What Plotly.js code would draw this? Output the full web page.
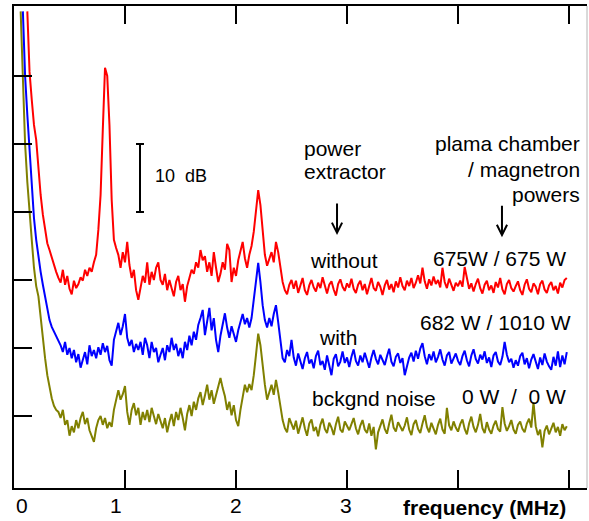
<!DOCTYPE html>
<html>
<head>
<meta charset="utf-8">
<script src="https://cdn.plot.ly/plotly-3.0.1.min.js"></script>
<style>html,body{margin:0;padding:0;background:#fff;}#chart{width:589px;height:521px;}</style>
</head>
<body>
<div id="chart"></div>
<script>
// Frequency grid (MHz): each trace starts at its own first frequency, step 0.02 MHz
const freqStep = 0.02;
const redStart = 0.12;
const blueStart = 0.08;
const oliveStart = 0.06;

// Relative level (dB) – "without" power extractor, 675 W / 675 W
const redDb = [
  69.5, 60.6, 56.5, 52.8, 50.6, 46.2, 42.5, 39.6, 37.1, 35.4, 34.4, 33.2, 32.2, 31.2,
  30.3, 29.6, 31.5, 29.3, 30.6, 28.7, 27.9, 29.9, 28.8, 29.4, 30.4, 29.9, 31.5, 30.6, 31.8, 31.2, 32.6, 33.7,
  37.4, 42.5, 52.1, 61.2, 60.0, 52.8, 41.8, 35.9, 34.7,
  33.7, 31.8, 34.1, 32.6, 35.6, 32.2, 30.3, 31.5, 28.5, 27.1, 28.8, 30.6, 29.6, 32.6, 29.3, 31.2, 30.0, 31.8, 32.6, 30.0,
  29.3, 30.9, 28.5, 30.0, 28.8, 27.6, 29.7, 30.6, 28.5, 29.4,
  26.8, 29.1, 30.3, 31.5, 30.9, 32.6, 31.8, 34.4, 32.9, 33.5,
  31.2, 32.6, 30.6, 34.1, 31.8, 29.7, 30.9, 32.6, 31.5, 35.3,
  34.4, 29.7, 31.8, 30.6, 32.9, 34.1, 35.6, 33.2, 31.8, 33.7,
  35.0, 37.1, 40.0, 43.2, 41.0, 37.1, 33.7, 32.1, 33.2, 34.1,
  32.6, 35.6, 34.1, 31.5, 29.7, 28.5, 27.9, 29.3, 30.0,
  28.7, 29.9, 28.1, 29.4, 30.3, 28.5, 27.8, 29.2, 30.0, 28.9, 28.3, 29.6, 28.8, 30.4, 29.1, 28.0, 29.3, 29.8, 28.6, 27.7, 29.4, 30.1, 29.0, 28.4, 29.5,
  28.9, 30.2, 28.7, 28.1, 29.3, 29.9, 28.5, 29.4, 27.9, 29.1, 30.3, 28.8, 28.4, 29.7, 29.0, 27.8, 29.2, 30.0, 28.6, 29.4, 28.2, 29.8, 28.9, 30.4, 29.1,
  28.5, 29.9, 29.1, 30.3, 28.8, 29.6, 30.7, 29.5, 31.8, 29.8, 28.7, 30.1, 29.2, 30.5, 29.4, 30.0, 28.9, 31.8, 29.7, 28.8, 30.2, 29.3, 28.4, 29.6, 29.1,
  29.9, 29.0, 31.9, 30.1, 28.7, 29.5, 28.3, 29.4, 30.2, 28.8, 28.0, 29.3, 29.9, 28.5, 29.2, 28.1, 29.7, 28.9, 30.3, 28.6, 27.9, 29.4, 30.0, 28.8, 28.3,
  29.1, 29.8, 28.5, 27.8, 29.3, 30.1, 28.7, 28.2, 29.5, 29.0, 27.9, 29.4, 29.9, 28.6, 28.1, 29.2, 29.7, 28.5, 29.1, 28.0, 29.6, 28.9, 30.0, 30.3
];

// "with" power extractor, 682 W / 1010 W
const blueDb = [
  69.5, 60.0, 54.3, 49.4, 44.0, 39.1, 35.9, 33.2, 31.2, 29.3, 27.4, 25.6, 24.1, 23.1, 22.4, 21.6, 20.9,
  20.4, 19.4, 20.9, 19.0, 20.0, 18.5, 19.7, 17.9, 19.1, 17.1, 18.2, 19.4, 17.6, 20.4, 18.8,
  19.7, 18.5, 20.1, 19.0, 20.7, 19.4, 20.3, 18.2, 17.4, 21.2, 22.6, 23.7, 21.9, 23.2, 25.0,
  21.5, 20.3, 21.2, 19.4, 20.6, 19.7, 20.9, 19.0, 21.5, 20.4, 18.5, 20.9, 19.4, 20.0, 17.9,
  19.0, 20.0, 18.2, 20.4, 19.4, 21.5, 19.7, 20.6, 18.8, 20.0,
  18.5, 20.9, 19.7, 21.8, 20.4, 22.4, 21.2, 23.4, 24.4, 25.6,
  21.9, 23.8, 25.9, 22.6, 24.4, 21.2, 19.4, 21.8, 23.4, 25.1,
  23.0, 21.5, 23.2, 21.9, 20.9, 22.6, 23.8, 25.0, 23.5, 24.4,
  23.0, 24.4, 27.1, 30.0, 32.5, 29.7, 26.3, 24.1, 23.0, 24.4,
  23.2, 25.0, 26.3, 23.8, 21.2, 18.5, 17.9, 19.7, 18.8, 21.2,
  18.6, 17.4, 19.2, 18.0, 16.9, 18.5, 19.4, 17.7, 18.3, 17.0, 18.8, 19.6, 17.5, 18.1, 16.8, 18.9, 17.6, 16.0, 18.4, 19.1, 17.3, 18.0, 19.5, 17.8, 18.6,
  17.2, 18.7, 19.8, 18.1, 17.4, 18.9, 17.9, 19.3, 18.2, 17.1, 18.6, 19.7, 18.4, 17.6, 19.0, 18.3, 17.5, 18.8, 19.9, 18.0, 17.3, 18.7, 19.2, 17.8, 18.5,
  16.0, 17.4, 18.6, 19.3, 18.0, 19.6, 18.4, 19.9, 20.7, 18.8, 17.6, 19.1, 18.2, 19.5, 17.9, 18.7, 19.8, 18.3, 17.4, 18.9, 19.4, 17.7, 18.5, 19.2, 18.1,
  17.5, 18.8, 19.6, 18.2, 17.3, 18.9, 19.8, 18.4, 17.7, 19.0, 18.3, 19.5, 17.8, 18.6, 17.2, 18.9, 19.4, 18.0, 17.5, 18.7, 20.9, 19.0, 17.9, 18.4, 17.1,
  18.2, 17.4, 18.8, 19.3, 17.6, 18.5, 17.0, 18.3, 19.1, 17.8, 16.9, 18.6, 17.5, 19.2, 18.0, 17.3, 16.8, 18.7, 17.4, 19.5, 17.2, 18.9, 17.6, 19.4
];

// background noise, 0 W / 0 W
const oliveDb = [
  69.5, 58.7, 50.0, 44.4, 39.6, 35.9, 31.8, 29.1, 27.6, 24.4, 21.5, 18.5, 16.0, 14.1, 12.6, 11.5, 10.9,
  10.6, 9.7, 10.9, 8.7, 9.4, 7.1, 8.5, 7.6, 9.4, 8.2, 9.7, 10.6, 8.8, 9.7, 7.9,
  7.1, 6.2, 8.2, 9.4, 10.0, 8.7, 9.7, 8.2, 9.1, 8.4, 10.9, 12.6, 13.8, 12.4, 13.2,
  14.4, 10.6, 8.7, 10.9, 11.9, 10.1, 11.2, 8.7, 10.6, 9.4, 10.9, 9.1, 11.2, 10.0, 8.8, 10.3,
  9.4, 8.2, 9.7, 7.6, 9.1, 10.3, 8.5, 10.6, 9.4, 11.2,
  9.7, 7.9, 10.3, 11.6, 10.0, 12.1, 10.9, 12.6, 13.5, 11.6,
  13.0, 14.6, 12.4, 13.8, 11.8, 13.1, 14.7, 15.6, 14.1, 12.9,
  10.9, 12.1, 10.1, 11.6, 9.4, 8.5, 10.9, 12.9, 14.6, 13.5,
  14.7, 13.8, 16.0, 19.0, 22.1, 20.4, 17.1, 14.6, 12.4, 13.5,
  14.6, 13.1, 15.3, 13.5, 11.2, 9.4, 8.2, 7.6, 9.7, 8.8,
  8.0, 9.3, 7.4, 8.6, 9.8, 8.2, 7.1, 8.9, 9.5, 7.8, 8.4, 7.0, 8.7, 9.6, 8.1, 7.5, 9.0, 8.3, 7.2, 8.8, 9.9, 8.0, 7.6, 9.2, 8.5,
  7.9, 8.8, 9.7, 8.2, 7.3, 8.6, 9.4, 8.0, 7.5, 8.9, 7.1, 8.4, 5.1, 7.6, 8.7, 9.5, 8.1, 7.4, 8.9, 10.2, 8.3, 7.7, 9.1, 8.5, 7.8,
  8.6, 9.8, 8.0, 7.2, 8.8, 9.4, 8.1, 7.5, 8.9, 10.1, 8.4, 7.6, 9.0, 8.2, 7.3, 8.7, 9.6, 8.0, 7.4, 11.2, 8.6, 7.9, 9.2, 8.3, 7.7,
  8.8, 9.5, 8.1, 7.3, 8.9, 9.9, 8.4, 7.6, 8.7, 10.3, 8.2, 7.5, 9.1, 8.0, 7.4, 8.6, 9.3, 8.1, 7.7, 11.3, 8.9, 7.8, 8.5, 9.4, 8.0,
  7.4, 8.7, 9.2, 8.1, 7.6, 8.9, 9.6, 8.3, 12.0, 8.5, 7.2, 8.0, 5.4, 7.8, 8.6, 7.3, 8.2, 9.0, 7.6, 8.4, 7.1, 8.8, 7.9, 8.5
];

// Axis tick labels (MHz) and axis title
const tickLabels = ['0', '1', '2', '3'];
const tickLabelX = [0.075, 0.923, 2.0, 2.99];
const axisTitle = 'frequency (MHz)';

// Text labels
const seriesLabels = ['without', 'with', 'bckgnd noise'];
const powerLabels = ['675W / 675 W', '682 W / 1010 W', '0 W\u00a0 /\u00a0 0 W'];
const headerLeft = ['power', 'extractor'];
const headerRight = ['plama chamber', '/ magnetron', 'powers'];
const scaleLabel = '10\u00a0 dB';
const scaleBar = [40, 50]; // dB

const FONT = 'Liberation Sans, Arial, Helvetica, sans-serif';
const fsz = 21;

const traces = [
  {type: 'scatter', mode: 'lines', x0: oliveStart, dx: freqStep, y: oliveDb,
   line: {color: '#808000', width: 2}, hoverinfo: 'skip'},
  {type: 'scatter', mode: 'lines', x0: blueStart, dx: freqStep, y: blueDb,
   line: {color: '#0000ff', width: 2}, hoverinfo: 'skip'},
  {type: 'scatter', mode: 'lines', x0: redStart, dx: freqStep, y: redDb,
   line: {color: '#ff0000', width: 2}, hoverinfo: 'skip'}
];

const txt = (text, x, y, xanchor, size, bold) => ({
  text: bold ? '<b>' + text + '</b>' : text, x: x, y: y, xref: 'x', yref: 'y',
  xanchor: xanchor || 'center', yanchor: 'middle', showarrow: false,
  font: {family: FONT, size: size || fsz, color: '#000'}
});

const annotations = [];
tickLabels.forEach((t, i) => annotations.push(Object.assign(txt(t, tickLabelX[i], 0, 'center'),
  {yref: 'paper', y: -0.036})));
annotations.push(Object.assign(txt(axisTitle, 4.243, 0, 'center', 21, true), {yref: 'paper', y: -0.04}));

annotations.push(txt(headerLeft[0], 2.595, 49.4, 'left'));
annotations.push(txt(headerLeft[1], 2.595, 45.9, 'left'));
annotations.push(txt(headerRight[0], 5.117, 50.0, 'right'));
annotations.push(txt(headerRight[1], 5.117, 46.3, 'right'));
annotations.push(txt(headerRight[2], 5.117, 42.6, 'right'));

annotations.push(txt(seriesLabels[0], 2.973, 32.8));
annotations.push(txt(seriesLabels[1], 2.919, 21.5));
annotations.push(txt(seriesLabels[2], 3.243, 12.5));
annotations.push(txt(powerLabels[0], 4.374, 33.1));
annotations.push(txt(powerLabels[1], 4.342, 23.8));
annotations.push(txt(powerLabels[2], 4.505, 12.8));

annotations.push(txt(scaleLabel, 1.252, 45.3, 'left', 18));

// arrows
[[2.91, 36.6], [4.396, 36.3]].forEach(p => annotations.push({
  x: p[0], y: p[1], xref: 'x', yref: 'y', ax: 0, ay: -33, text: '', showarrow: true,
  arrowhead: 5, arrowsize: 1, arrowwidth: 2, arrowcolor: '#000', standoff: 0
}));

const shapes = [
  {type: 'line', xref: 'x', yref: 'y', x0: 1.135, x1: 1.135, y0: scaleBar[0], y1: scaleBar[1], line: {color: '#000', width: 2}},
  {type: 'line', xref: 'x', yref: 'y', x0: 1.099, x1: 1.171, y0: scaleBar[0], y1: scaleBar[0], line: {color: '#000', width: 2}},
  {type: 'line', xref: 'x', yref: 'y', x0: 1.099, x1: 1.171, y0: scaleBar[1], y1: scaleBar[1], line: {color: '#000', width: 2}},
  {type: 'line', xref: 'paper', yref: 'paper', x0: 1, x1: 1, y0: 0, y1: 1, line: {color: '#b4b4b4', width: 1}}
];

const layout = {
  width: 589, height: 521,
  margin: {l: 14, r: 2, t: 6, b: 33, pad: 0},
  paper_bgcolor: '#fff', plot_bgcolor: '#fff',
  showlegend: false,
  font: {family: FONT, size: fsz, color: '#000'},
  xaxis: {range: [0, 5.162], tickmode: 'array', tickvals: [1, 2, 3, 4, 5], ticks: 'inside',
    ticklen: 18, tickwidth: 2, tickcolor: '#000', showticklabels: false,
    showline: true, linewidth: 2, linecolor: '#000', mirror: 'ticks',
    showgrid: false, zeroline: false, fixedrange: true},
  yaxis: {range: [-0.59, 70.29], tickmode: 'array', tickvals: [10, 20, 30, 40, 50, 60], ticks: 'inside',
    ticklen: 18, tickwidth: 2, tickcolor: '#000', showticklabels: false,
    showline: true, linewidth: 2, linecolor: '#000', mirror: false,
    showgrid: false, zeroline: false, fixedrange: true},
  annotations: annotations,
  shapes: shapes
};

Plotly.newPlot('chart', traces, layout, {staticPlot: true, displayModeBar: false});
</script>
</body>
</html>
